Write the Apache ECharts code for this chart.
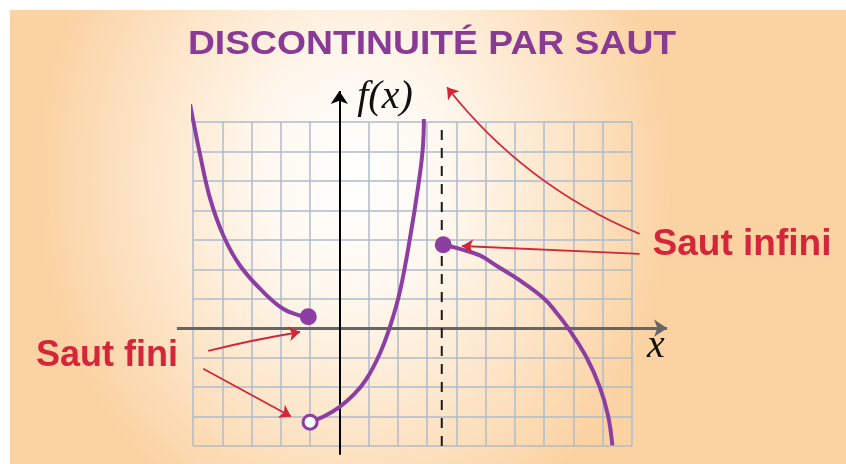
<!DOCTYPE html>
<html>
<head>
<meta charset="utf-8">
<script src="https://cdn.jsdelivr.net/npm/echarts@6/dist/echarts.min.js"></script>
<style>
  html, body { margin: 0; padding: 0; background: #fff; }
  #bg {
    position: absolute; left: 10px; top: 10px; width: 836px; height: 454px;
    background: radial-gradient(ellipse 320px 380px at 345px 170px, #ffffff 0%, #fff8ef 30%, #fde4c6 68%, #fbd2a2 100%);
  }
  #chart { position: absolute; left: 0; top: 0; width: 846px; height: 464px; }
</style>
</head>
<body>
<div id="bg"></div>
<div id="chart"></div>
<script>
// grid range (one cell = one unit)
const xRange = [-5, 10];
const yRange = [-4, 7];
// drawn axes run a little past the grid
const xAxisExtent = [-5.55, 11.2];
const yAxisExtent = [-4.3, 8.05];

// the three branches of f
const leftBranch = [
  [-5.1, 7.6], [-4.75, 5.85], [-4.41, 4.38], [-3.96, 3.14], [-3.39, 2.12],
  [-2.59, 1.22], [-1.91, 0.65], [-1.34, 0.43], [-1.06, 0.39]
];
const middleBranch = [
  [-1, -3.19], [-0.5, -2.98], [0, -2.68], [0.5, -2.25], [0.93, -1.72], [1.39, -0.85],
  [1.73, 0.05], [2.07, 1.25], [2.41, 3.03], [2.7, 4.85], [2.85, 6.08], [2.89, 7.1]
];
const rightBranch = [
  [3.55, 2.83], [4.12, 2.69], [4.8, 2.47], [5.37, 2.12], [6.17, 1.62], [7.0, 1.0],
  [7.44, 0.5], [7.82, 0], [8.44, -0.98], [8.9, -2.0], [9.18, -2.96], [9.33, -3.98]
];
const closedPoints = [[-1.06, 0.39], [3.55, 2.83]];
const openPoints = [[-1, -3.19]];
const asymptoteX = 3.5;

// annotation arrows: [from, to, curveness]
const arrowsInfini = [
  [[10.26, 3.2], [3.68, 8.18], 0.13],
  [[10.26, 2.52], [4.19, 2.79], 0]
];
const arrowsFini = [
  [[-4.48, -0.77], [-1.34, -0.13], 0.02],
  [[-4.65, -1.38], [-1.65, -3.0], 0]
];

const purple = '#8c3ea3';
const titlePurple = '#883a94';
const red = '#d3263a';

const chart = echarts.init(document.getElementById('chart'));

const toLines = list => list.map(a => ({ coords: [a[0], a[1]], lineStyle: { curveness: a[2] } }));

chart.setOption({
  animation: false,
  grid: { left: 193, top: 122, width: 439, height: 324 },
  xAxis: {
    type: 'value', min: xRange[0], max: xRange[1], interval: 1,
    axisLine: { show: false }, axisTick: { show: false }, axisLabel: { show: false },
    splitLine: { show: true, showMinLine: true, showMaxLine: true, lineStyle: { color: '#aebbcd', width: 1.5 } }
  },
  yAxis: {
    type: 'value', min: yRange[0], max: yRange[1], interval: 1,
    axisLine: { show: false }, axisTick: { show: false }, axisLabel: { show: false },
    splitLine: { show: true, showMinLine: true, showMaxLine: true, lineStyle: { color: '#aebbcd', width: 1.5 } }
  },
  graphic: [
    { type: 'text', x: 432, y: 45, scaleX: 1.13, style: { text: 'DISCONTINUITÉ PAR SAUT', fill: titlePurple, font: 'bold 33px "Liberation Sans", Arial, sans-serif', textAlign: 'center', textVerticalAlign: 'middle' } },
    { type: 'text', x: 385, y: 97, style: { text: 'f(x)', fill: '#111', font: 'italic 40px "Liberation Serif", "DejaVu Serif", serif', textAlign: 'center', textVerticalAlign: 'middle' } },
    { type: 'text', x: 656, y: 346, style: { text: 'x', fill: '#111', font: 'italic 40px "Liberation Serif", "DejaVu Serif", serif', textAlign: 'center', textVerticalAlign: 'middle' } },
    { type: 'text', x: 742, y: 245, style: { text: 'Saut infini', fill: red, font: 'bold 37px "Liberation Sans", Arial, sans-serif', textAlign: 'center', textVerticalAlign: 'middle' } },
    { type: 'text', x: 107, y: 356, style: { text: 'Saut fini', fill: red, font: 'bold 36px "Liberation Sans", Arial, sans-serif', textAlign: 'center', textVerticalAlign: 'middle' } }
  ],
  series: [
    {
      type: 'lines', coordinateSystem: 'cartesian2d', clip: false, z: 3,
      symbol: ['none', 'arrow'], symbolSize: 13,
      data: [
        { coords: [[xAxisExtent[0], 0], [xAxisExtent[1], 0]], lineStyle: { color: '#666', width: 3, opacity: 1 } },
        { coords: [[0, yAxisExtent[0]], [0, yAxisExtent[1]]], lineStyle: { color: '#000', width: 2, opacity: 1 } }
      ]
    },
    {
      type: 'line', data: [[asymptoteX, yRange[0]], [asymptoteX, yRange[1]]],
      showSymbol: false, z: 3, lineStyle: { color: '#1a1a1a', width: 2, type: [10, 8] }
    },
    ...[leftBranch, middleBranch, rightBranch].map(branch => ({
      type: 'line', data: branch, smooth: 0.4, showSymbol: false, clip: false, z: 4,
      lineStyle: { color: purple, width: 4 }
    })),
    {
      type: 'lines', coordinateSystem: 'cartesian2d', clip: false, z: 6,
      symbol: ['none', 'arrow'], symbolSize: 11,
      lineStyle: { color: red, width: 1.8, opacity: 1 },
      data: toLines(arrowsInfini.concat(arrowsFini))
    },
    {
      type: 'scatter', data: closedPoints, symbolSize: 17, z: 7,
      itemStyle: { color: purple, opacity: 1 }
    },
    {
      type: 'scatter', data: openPoints, symbolSize: 14, z: 7,
      itemStyle: { color: '#fff', borderColor: purple, borderWidth: 3, opacity: 1 }
    }
  ]
});

window.onresize = () => chart.resize();
</script>
</body>
</html>
